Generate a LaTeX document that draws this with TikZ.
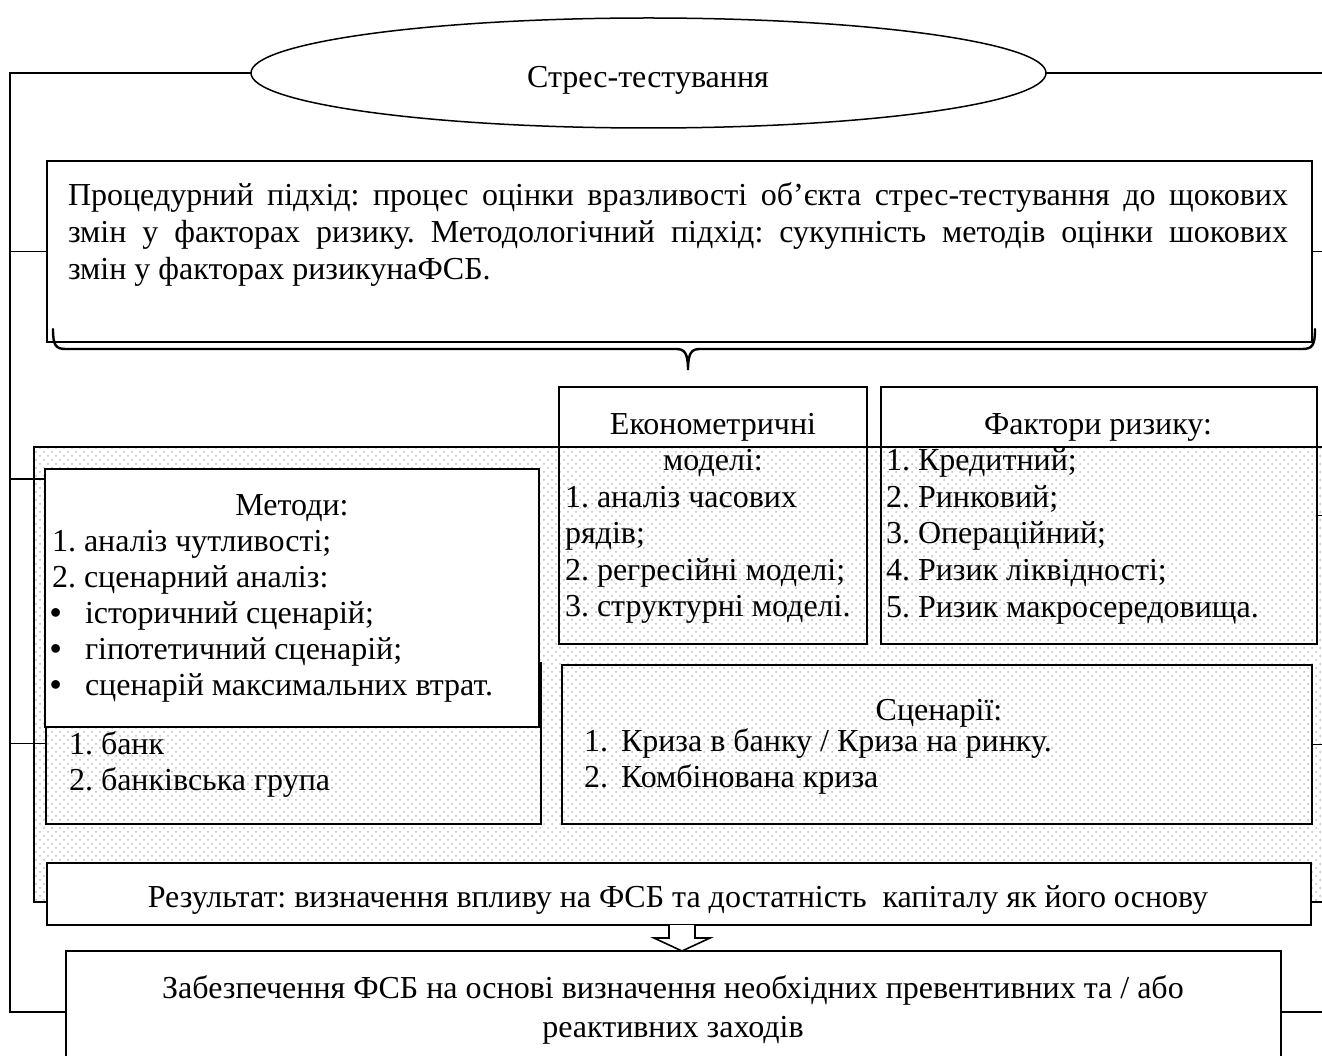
\documentclass[tikz,border=0pt]{standalone}
\usepackage{fontspec}
\setmainfont{Liberation Serif}
\usetikzlibrary{shapes.geometric,fit,patterns.meta}
\begin{document}
\frenchspacing
\begin{tikzpicture}[x=1pt,y=-1pt,
  every node/.style={inner sep=0pt, outer sep=0pt},
  txt/.style={font=\fontsize{32}{38}\selectfont},
  bulletmark/.style={font=\fontsize{32}{38}\bfseries\selectfont},
  frame/.style={draw, line width=1.5pt},
  heavyframe/.style={draw, line width=2.2pt},
  whitebox/.style={frame, fill=white},
  conn/.style={draw, line width=1.3pt},
  bracepath/.style={draw, line width=2.4pt, line cap=round},
  arrowshape/.style={draw, fill=white, line width=1.6pt, line join=miter},
  dotsA/.style={pattern={Dots[distance=8pt, radius=1pt]}, pattern color=black!28},
  dotsB/.style={pattern={Dots[distance=8pt, radius=1pt, xshift=4pt, yshift=4pt]}, pattern color=black!28}]
\useasboundingbox (0,0) rectangle (1322,1056);
\clip (0,0) rectangle (1322,1056);

% bus lines on both sides
\coordinate (lb) at (10,0);
\coordinate (rb) at (1335,0);

% dotted background field
\coordinate (s1) at (34,447);
\coordinate (s2) at (1345,902);
\fill[dotsA] (s1) rectangle (s2);
\fill[dotsB] (s1) rectangle (s2);
\node[frame, fit=(s1)(s2)] (shade) {};

% title ellipse
\node[draw, ellipse, line width=1.5pt, minimum width=795pt, minimum height=110pt] (ell) at (648.5,73) {};
\node[txt, anchor=base] (elltext) at (648,88) {Стрес-тестування};

% definition box
\node[heavyframe, fit={(47,161) (1312,342)}] (top) {};
\node[txt, anchor=base west] (p1) at (68,206) {\makebox[1220pt][s]{Процедурний підхід: процес оцінки вразливості об’єкта стрес-тестування до щокових}};
\node[txt, anchor=base west] (p2) at (68,243) {\makebox[1220pt][s]{змін у факторах ризику. Методологічний підхід: сукупність методів оцінки шокових}};
\node[txt, anchor=base west] (p3) at (68,280) {змін у факторах ризикунаФСБ.};

% brace under the definition box
\draw[bracepath] (53,329) .. controls (53,346) and (56,349) .. (66,349) -- (676,349)
  .. controls (684,349) and (688,352) .. (688,370)
  .. controls (688,352) and (692,349) .. (700,349) -- (1302,349)
  .. controls (1312,349) and (1315,346) .. (1315,329);

% econometric models
\node[frame, fit={(559,387) (867,644)}] (econ) {};
\node[txt, anchor=base] (e0) at (713,434) {Економетричні};
\node[txt, anchor=base] (e1) at (713,470) {моделі:};
\node[txt, anchor=base west] (e2) at (565,507) {1. аналіз часових};
\node[txt, anchor=base west] (e3) at (565,543) {рядів;};
\node[txt, anchor=base west] (e4) at (565,580) {2. регресійні моделі;};
\node[txt, anchor=base west] (e5) at (565,616) {3. структурні моделі.};

% risk factors
\node[frame, fit={(881,387) (1317,644)}] (fact) {};
\node[txt, anchor=base] (f0) at (1098,434) {Фактори ризику:};
\node[txt, anchor=base west] (f1) at (886,470) {1. Кредитний;};
\node[txt, anchor=base west] (f2) at (886,507) {2. Ринковий;};
\node[txt, anchor=base west] (f3) at (886,543) {3. Операційний;};
\node[txt, anchor=base west] (f4) at (886,580) {4. Ризик ліквідності;};
\node[txt, anchor=base west] (f5) at (886,617) {5. Ризик макросередовища.};

% objects of testing
\node[frame, fit={(46,663) (541,824)}] (bank) {};
\node[txt, anchor=base west] (b1n) at (69,754) {1.};
\node[txt, anchor=base west] (b1) at (101,754) {банк};
\node[txt, anchor=base west] (b2n) at (69,790) {2.};
\node[txt, anchor=base west] (b2) at (101,790) {банківська група};

% scenarios
\node[frame, fit={(562,665) (1312,824)}] (scen) {};
\node[txt, anchor=base] (s0) at (939,720) {Сценарії:};
\node[txt, anchor=base west] (s1n) at (584,751) {1.};
\node[txt, anchor=base west] (s1t) at (621,751) {Криза в банку / Криза на ринку.};
\node[txt, anchor=base west] (s2n) at (584,787) {2.};
\node[txt, anchor=base west] (s2t) at (621,787) {Комбінована криза};

% methods
\node[whitebox, fit={(45,469) (539,727)}] (meth) {};
\node[txt, anchor=base] (m0) at (292,515) {Методи:};
\node[txt, anchor=base west] (m1) at (52,551) {1. аналіз чутливості;};
\node[txt, anchor=base west] (m2) at (52,587) {2. сценарний аналіз:};
\node[bulletmark, anchor=base west] (m3b) at (50,623) {•};
\node[txt, anchor=base west] (m3) at (85,623) {історичний сценарій;};
\node[bulletmark, anchor=base west] (m4b) at (50,659) {•};
\node[txt, anchor=base west] (m4) at (85,659) {гіпотетичний сценарій;};
\node[bulletmark, anchor=base west] (m5b) at (50,695) {•};
\node[txt, anchor=base west] (m5) at (85,695) {сценарій максимальних втрат.};

% result
\node[draw, fill=white, line width=2.6pt, fit={(47,863) (1311,925)}] (res) {};
\node[txt, anchor=base] (restext) at (678,907) {Результат: визначення впливу на ФСБ та достатність\ \ капіталу як його основу};

% outcome
\node[whitebox, fit={(66,951) (1281,1073)}] (bot) {};
\node[txt, anchor=base] (bot1) at (673,998) {Забезпечення ФСБ на основі визначення необхідних превентивних та / або};
\node[txt, anchor=base] (bot2) at (673,1037) {реактивних заходів};

% block arrow from result to outcome
\coordinate (ax) at (682,0);
\draw[arrowshape] (ax |- res.south) ++(-13,0) -- ++(0,13) -- ++(-15,0) -- ++(28,13) -- ++(28,-13) -- ++(-15,0) -- ++(0,-13);

% left bus and its branches
\draw[conn] (ell.west) -| (lb |- bot.west) -- (bot.west);
\draw[conn] (top.west) -- (top.west -| lb);
\path (meth.north west) ++(0,10) coordinate (mt);
\draw[conn] (mt) -- (mt -| lb);
\draw[conn] (bank.west) -- (bank.west -| lb);

% right bus and its branches
\draw[conn] (ell.east) -| (rb |- bot.east) -- (bot.east);
\draw[conn] (top.east) -- (top.east -| rb);
\draw[conn] (fact.east) -- (fact.east -| rb);
\draw[conn] (scen.east) -- (scen.east -| rb);
\path (res.east) ++(0,8) coordinate (rt);
\draw[conn] (rt) -- (rt -| rb);
\end{tikzpicture}
\end{document}
